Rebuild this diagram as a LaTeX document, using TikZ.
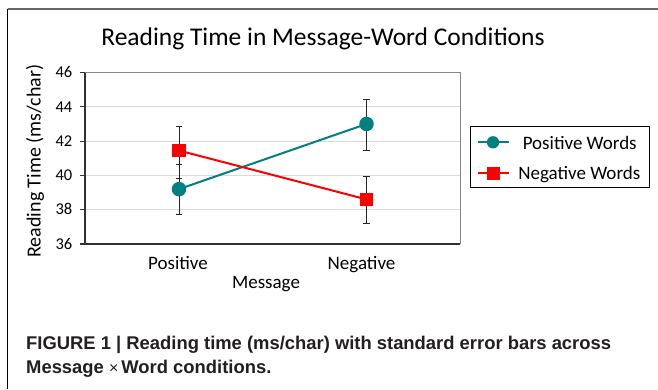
\documentclass[tikz,border=0pt]{standalone}
\usepackage{fontspec}
\setmainfont{Carlito}
\newfontfamily\capfont{Liberation Sans}
\definecolor{pwcol}{RGB}{0,128,128}
\definecolor{nwcol}{RGB}{255,0,0}
\definecolor{gridcol}{RGB}{217,217,217}
\definecolor{axiscol}{RGB}{50,50,50}
\definecolor{bordcol}{RGB}{134,134,134}
\definecolor{capcol}{RGB}{35,31,32}
\tikzset{
  pwline/.style={draw=pwcol, line width=2pt},
  nwline/.style={draw=nwcol, line width=2pt},
  pwmark/.style={circle, fill=pwcol, minimum size=14.5pt, inner sep=0pt},
  nwmark/.style={rectangle, fill=nwcol, minimum size=13.3pt, inner sep=0pt},
  pwkey/.style={circle, fill=pwcol, minimum size=12.3pt, inner sep=0pt},
  nwkey/.style={rectangle, fill=nwcol, minimum size=12.5pt, inner sep=0pt},
  errbar/.style={draw=black!85, line width=0.8pt},
  gridline/.style={draw=gridcol, line width=0.8pt},
  axisline/.style={draw=axiscol, line width=1.2pt},
  ticklabel/.style={anchor=base east, inner sep=0pt, font=\fontsize{16.5}{18}\selectfont},
  axlabel/.style={anchor=base, inner sep=0pt, font=\fontsize{19}{22}\selectfont},
  keylabel/.style={anchor=base, inner sep=0pt, font=\fontsize{19}{22}\selectfont},
  captext/.style={anchor=base west, inner sep=0pt, text=capcol,
    font=\capfont\bfseries\fontsize{18.4}{22}\selectfont},
}
\begin{document}
\begin{tikzpicture}[x=1pt, y=-1pt,
  declare function={yv(\v)=244-(\v-36)*17.15;}]
\useasboundingbox (0,0) rectangle (658,389);
\fill[white] (0,0) rectangle (658,389);

% outer frame (top and left edges)
\draw[draw=black!60, line width=1.5pt] (7.5,9) -- (658,9);
\draw[draw=black, line width=1.3pt] (7.5,8.5) -- (7.5,389);

% title
\node[anchor=base, inner sep=0pt, font=\fontsize{25.5}{30}\selectfont] (title) at (323,45.7)
  {Reading Time in Message-Word Conditions};

% plot area: gridlines and frame
\foreach \v in {38,40,42,44}
  \draw[gridline] (85,{yv(\v)}) -- (460,{yv(\v)});
\draw[draw=bordcol, line width=1pt] (85,{yv(46)}) -- (460,{yv(46)}) -- (460,{yv(36)});
\draw[axisline] (85,{yv(46)}) -- (85,{yv(36)}) -- (460,{yv(36)});
\foreach \v in {36,38,...,46} {
  \draw[axisline] (80,{yv(\v)}) -- (85,{yv(\v)});
  \node[ticklabel] (tick\v) at (72.5,{yv(\v)+5.2}) {\v};
}

% axis labels
\node[rotate=90, inner sep=0pt, font=\fontsize{20}{24}\selectfont] (ylab) at (35,161)
  {Reading Time (ms/char)};
\node[axlabel] (catpos) at (178,269.3) {Positive};
\node[axlabel] (catneg) at (361.5,269.3) {Negative};
\node[axlabel] (xlab) at (266,288.3) {Message};

% data points
\coordinate (pw1) at (179,{yv(39.2)});
\coordinate (pw2) at (366.5,{yv(43.0)});
\coordinate (nw1) at (179,{yv(41.45)});
\coordinate (nw2) at (366.5,{yv(38.6)});

% series lines
\draw[pwline] (pw1) -- (pw2);
\draw[nwline] (nw1) -- (nw2);

% error bars: x, top value, bottom value
\foreach \x/\hi/\lo in {179/42.88/39.84, 179/40.62/37.72, 366.5/44.42/41.46, 366.5/39.92/37.2}
  \draw[errbar] (\x-3.4,{yv(\hi)}) -- (\x+3.4,{yv(\hi)})
                (\x,{yv(\hi)}) -- (\x,{yv(\lo)})
                (\x-3.4,{yv(\lo)}) -- (\x+3.4,{yv(\lo)});

% markers
\node[pwmark] (pwm1) at (pw1) {};
\node[pwmark] (pwm2) at (pw2) {};
\node[nwmark] (nwm1) at (nw1) {};
\node[nwmark] (nwm2) at (nw2) {};

% legend
\draw[draw=black, line width=1.3pt] (470.7,126.7) rectangle (649.3,187.3);
\coordinate (k1a) at (478,142.3);
\coordinate (k1b) at (509,142.3);
\coordinate (k2a) at (478,173.3);
\coordinate (k2b) at (509,173.3);
\draw[pwline] (k1a) -- (k1b);
\draw[nwline] (k2a) -- (k2b);
\node[pwkey] (k1m) at (493,142.3) {};
\node[nwkey] (k2m) at (493.5,173.3) {};
\node[keylabel] (k1t) at (579.7,149.3) {Positive Words};
\node[keylabel] (k2t) at (579.3,179.3) {Negative Words};

% caption
\node[captext] (cap1) at (26,349) {FIGURE 1 | Reading time (ms/char) with standard error bars across};
\node[captext] (cap2) at (26,373) {Message {\mdseries\fontsize{16}{20}\selectfont ×}\,Word conditions.};
\end{tikzpicture}
\end{document}
